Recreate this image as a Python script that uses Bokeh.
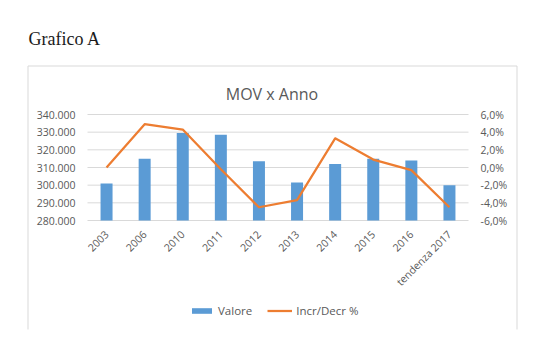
from math import pi
from bokeh.plotting import figure
from bokeh.models import (Range1d, LinearAxis, FixedTicker, Label, Legend, LegendItem,
                          ColumnDataSource)
from bokeh.embed import file_html
from bokeh.resources import INLINE

# ---- data ----
categories = ["2003", "2006", "2010", "2011", "2012", "2013", "2014", "2015", "2016", "tendenza 2017"]
valore = [301000, 315000, 329500, 328500, 313500, 301500, 312000, 315000, 314000, 300000]
incr_decr = [0.0, 4.9, 4.3, -0.2, -4.5, -3.7, 3.3, 0.9, -0.3, -4.5]
left_ticks = [280000, 290000, 300000, 310000, 320000, 330000, 340000]
left_tick_labels = ["280.000", "290.000", "300.000", "310.000", "320.000", "330.000", "340.000"]
right_ticks = [-6, -4, -2, 0, 2, 4, 6]
right_tick_labels = ["-6,0%", "-4,0%", "-2,0%", "0,0%", "2,0%", "4,0%", "6,0%"]

# ---- layout (pixels) ----
W, H = 560, 353
PL, PR, PT, PB = 87, 468, 114, 220          # plot area
BOX_L, BOX_R, BOX_T, BOX_B = 27.5, 516.5, 65.5, 329   # chart border

N = len(categories)
YMIN, YMAX = left_ticks[0], left_ticks[-1]
RMIN, RMAX = right_ticks[0], right_ticks[-1]
XS = N / (PR - PL)                 # data per px (x)
YS = (YMAX - YMIN) / (PB - PT)     # data per px (left y)
RS = (RMAX - RMIN) / (PB - PT)     # data per px (right y)

def dx(px):
    return -0.5 + (px - PL) * XS

def dy(py):
    return YMIN + (PB - py) * YS

FONT = "Open Sans"
GRAY = "#595959"

p = figure(width=W, height=H, output_backend="svg", toolbar_location=None,
           x_range=Range1d(dx(0), dx(W)), y_range=Range1d(dy(H), dy(0)),
           min_border_left=0, min_border_right=0, min_border_top=0, min_border_bottom=0,
           outline_line_color=None, background_fill_color="white",
           border_fill_color="white")
p.extra_y_ranges = {"pct": Range1d(RMIN - (H - PB) * RS, RMIN + PB * RS)}

# gridlines (plot area only)
p.segment(x0=-0.5, x1=N - 0.5, y0=left_ticks, y1=left_ticks,
          line_color="#d9d9d9", line_width=1)

# chart border, open at the bottom
p.line(x=[dx(BOX_L), dx(BOX_L), dx(BOX_R), dx(BOX_R)],
       y=[dy(BOX_B), dy(BOX_T), dy(BOX_T), dy(BOX_B)],
       line_color="#d9d9d9", line_width=1)

src = ColumnDataSource(dict(x=list(range(N)), valore=valore, pct=incr_decr))
bars = p.vbar(x="x", top="valore", bottom=YMIN, width=0.315, source=src,
              fill_color="#5b9bd5", line_color=None)
line = p.line(x="x", y="pct", source=src, y_range_name="pct",
              line_color="#ed7d31", line_width=2.25, line_join="round")

# axes placed at the plot-area edges
p.xaxis.ticker = FixedTicker(ticks=list(range(N)))
p.xaxis.major_label_overrides = {i: c for i, c in enumerate(categories)}
p.xaxis.major_label_orientation = pi / 4
p.xaxis.fixed_location = YMIN
p.yaxis.ticker = FixedTicker(ticks=left_ticks)
p.yaxis.major_label_overrides = {t: l for t, l in zip(left_ticks, left_tick_labels)}
p.yaxis.fixed_location = -0.5

raxis = LinearAxis(y_range_name="pct", ticker=FixedTicker(ticks=right_ticks),
                   major_label_overrides={t: l for t, l in zip(right_ticks, right_tick_labels)},
                   fixed_location=N - 0.5)
p.add_layout(raxis, "right")

for ax in [p.xaxis[0], p.yaxis[0], raxis]:
    ax.axis_line_color = None
    ax.major_tick_line_color = None
    ax.minor_tick_line_color = None
    ax.major_tick_out = 0
    ax.major_tick_in = 0
    ax.minor_tick_out = 0
    ax.minor_tick_in = 0
    ax.major_label_text_font = FONT
    ax.major_label_text_font_size = "10.5px"
    ax.major_label_text_color = GRAY
    ax.major_label_standoff = 12

p.xgrid.visible = False
p.ygrid.visible = False

# texts
p.add_layout(Label(x=dx(28), y=dy(38), text="Grafico A", text_font="Liberation Serif",
                   text_font_size="18px", text_color="#1a1a1a", text_baseline="alphabetic"))
p.add_layout(Label(x=dx(271.5), y=dy(93), text="MOV x Anno", text_font=FONT,
                   text_font_size="16px", text_color=GRAY, text_align="center",
                   text_baseline="alphabetic"))

legend = Legend(items=[LegendItem(label="Valore", renderers=[bars]),
                       LegendItem(label="Incr/Decr %", renderers=[line])],
                location=(189, H - 318), orientation="horizontal",
                border_line_color=None, background_fill_alpha=0,
                padding=0, margin=0, spacing=15, label_standoff=4,
                glyph_width=25, glyph_height=7, label_height=14,
                label_text_font=FONT, label_text_font_size="11.5px",
                label_text_color=GRAY)
p.add_layout(legend)

open("out.html", "w").write(file_html(p, INLINE))
